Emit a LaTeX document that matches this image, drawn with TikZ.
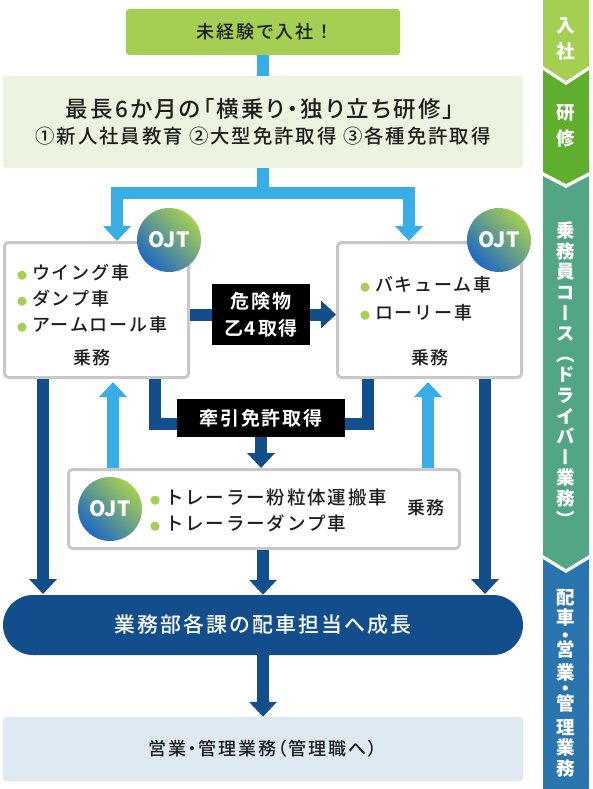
\documentclass[tikz,border=0pt]{standalone}
\usepackage{fontspec}
\setmainfont[LetterSpace=10,BoldFont={Noto Sans CJK JP Bold}]{Noto Sans CJK JP Medium}
\newfontfamily\sidefont[RawFeature=+vert]{Noto Sans CJK JP}
\newfontfamily\palefont[RawFeature=+palt,LetterSpace=10]{Noto Sans CJK JP Medium}
\newfontfamily\ojtfont{Noto Sans CJK JP}
\usetikzlibrary{positioning,arrows.meta,calc}
\definecolor{leaf}{HTML}{A5CF52}
\definecolor{leafdeep}{HTML}{5FAE2E}
\definecolor{leaftint}{HTML}{ECF4DF}
\definecolor{teal}{HTML}{52A585}
\definecolor{steel}{HTML}{2A75AE}
\definecolor{sky}{HTML}{38ADE6}
\definecolor{navy}{HTML}{134E8C}
\definecolor{icetint}{HTML}{DEE9F3}
\definecolor{rule}{HTML}{C8C8C8}
\definecolor{ink}{HTML}{1E1E1E}
\definecolor{ojtblue}{HTML}{1F68C4}
\definecolor{ojtmid}{HTML}{4E9C94}
\newcommand{\fs}[1]{\fontsize{#1pt}{#1pt}\selectfont}
\newcommand{\bul}{{\color{leaf}\fontsize{10pt}{10pt}\selectfont ●}\hspace{5pt}}
\tikzset{
  wbox/.style={draw=rule, line width=3pt, rounded corners=4pt, fill=white, inner sep=0pt},
  tag/.style={fill=black, text=white, inner sep=0pt, align=center,
    font=\fontsize{19pt}{27pt}\selectfont\bfseries},
  ojt/.style={circle, minimum size=64pt, inner sep=0pt, left color=leaf, middle color=ojtmid,
    right color=ojtblue, shading angle=-45, text=white,
    font=\ojtfont\bfseries\fontsize{21pt}{21pt}\selectfont},
  items/.style={anchor=west, align=left, inner sep=0pt, text=ink,
    font=\fontsize{18pt}{26pt}\selectfont},
  duty/.style={inner sep=0pt, text=ink, font=\fontsize{18pt}{20pt}\selectfont},
  side/.style={align=center, inner sep=0pt, text=white,
    font=\sidefont\bfseries\fontsize{18.5pt}{20.6pt}\selectfont},
  larr/.style={-{Triangle[length=15pt,width=27pt]}, line width=12pt, color=sky},
  darr/.style={-{Triangle[length=15pt,width=27pt]}, line width=12pt, color=navy},
  dline/.style={line width=12pt, color=navy},
}
\begin{document}
\begin{tikzpicture}[x=1pt,y=-1pt]
  \useasboundingbox (0,0) rectangle (592,789);
  % side bar, drawn from the bottom up
  \fill[steel] (543,545) rectangle (589,789);
  \foreach \top/\sh/\pt/\col in {160/555/569/teal, 60/172/184/leafdeep, 0/66/81/leaf}{
    \fill[white] (543,\top) -- (589,\top) -- (589,\sh+4) -- (566,\pt+4) -- (543,\sh+4) -- cycle;
    \fill[\col] (543,\top) -- (589,\top) -- (589,\sh) -- (566,\pt) -- (543,\sh) -- cycle;
  }
  \node[side] (sjoin) at (566,39) {入\\[6pt]社};
  \node[side] (strain) at (566,126) {研\\[6pt]修};
  \node[side] (sdrive) at (566,374) {乗\\務\\員\\コ\\ー\\ス\\（\\ド\\ラ\\イ\\バ\\ー\\業\\務\\）};
  \node[side] (sdesk) at (566,683) {配\\車\\[-3pt]・\\[-6pt]営\\[2pt]業\\[-5pt]・\\[-5pt]管\\[3pt]理\\業\\務};

  \node[fill=leaf, rounded corners=3pt, minimum width=274pt, minimum height=46pt, inner sep=0pt,
    text=ink, font=\fs{18}] (join) at (263,32) {\hspace{4pt}未経験で入社！};
  \node[fill=leaftint, rounded corners=3pt, minimum width=520pt, minimum height=92pt, inner sep=0pt,
    align=center, text=ink] (course) at (263,122)
    {{\palefont\fontsize{22.5pt}{30pt}\selectfont\hspace{-6pt}最長6か月の「横乗り・独り立ち研修」}\\[7pt]
     {\fontsize{19.4pt}{28pt}\selectfont ①新人社員教育 ②大型免許取得 ③各種免許取得}};

  \node[wbox, minimum width=184pt, minimum height=135pt] (wing) at (96.5,310) {};
  \node[wbox, minimum width=184pt, minimum height=135pt] (vac) at (429.5,310) {};
  \node[wbox, minimum width=391pt, minimum height=79pt] (trailer) at (264,509) {};
  \node[items] (wingitems) at (17,299) {\bul ウイング車\\\bul ダンプ車\\\bul アームロール車};
  \node[items] (vacitems) at (360,299) {\bul バキューム車\\[2pt]\bul ローリー車};
  \node[items, font=\fontsize{18.5pt}{26pt}\selectfont] (trailitems) at (150,510)
    {\bul トレーラー粉粒体運搬車\\\bul トレーラーダンプ車};
  \node[duty] (wingduty) at (92,358) {乗務};
  \node[duty] (vacduty) at (430,358) {乗務};
  \node[duty] (trailduty) at (426,508) {乗務};
  \node[ojt] (ojta) at (169,240) {OJT};
  \node[ojt] (ojtb) at (499,240) {OJT};
  \node[ojt] (ojtc) at (110,509) {OJT};

  \node[tag, minimum width=98pt, minimum height=61pt] (hazmat) at (261,314.5) {危険物\\乙4取得};
  \node[tag, minimum width=168pt, minimum height=38pt] (tow) at (261,418) {牽引免許取得};
  \coordinate (towbend) at (261,424);

  \node[fill=navy, rounded corners=30pt, minimum width=520pt, minimum height=60pt, inner sep=0pt,
    text=white, font=\fontsize{20.9pt}{20.9pt}\selectfont] (grow) at (263,625) {業務部各課の配車担当へ成長};
  \node[fill=icetint, rounded corners=3pt, minimum width=520pt, minimum height=64pt, inner sep=0pt,
    text=ink, font=\palefont\fs{18}] (office) at (263,749) {営業・管理業務（管理職へ）};

  \draw[line width=12pt, color=sky] (join.south) -- (course.north);
  \draw[larr] (course.south) -- (263,193) -| (117,0 |- wing.north);
  \draw[larr] (course.south) -- (263,193) -| (409,0 |- vac.north);
  \draw[dline] (wing.east |- hazmat.west) -- (hazmat.west);
  \draw[darr] (hazmat.east) -- (vac.west |- hazmat.east);
  \draw[dline] (155,0 |- wing.south) |- (towbend -| tow.west);
  \draw[dline] (368,0 |- vac.south) |- (towbend -| tow.east);
  \draw[darr] (tow.south) -- (tow.south |- trailer.north);
  \draw[larr] (113,0 |- trailer.north) -- (113,382);
  \draw[larr] (428,0 |- trailer.north) -- (428,382);
  \draw[darr] (43,0 |- wing.south) -- (43,594);
  \draw[darr] (485,0 |- vac.south) -- (485,594);
  \draw[darr] (trailer.south -| grow.north) -- (grow.north);
  \draw[darr] (grow.south) -- (office.north);
\end{tikzpicture}
\end{document}
